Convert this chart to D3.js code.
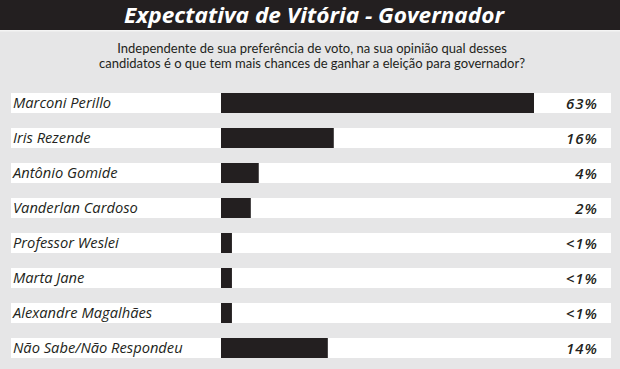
<!DOCTYPE html>
<html lang="pt">
    <head>
        <meta charset="utf-8">
        <title>Expectativa de Vitória - Governador</title>
        <script src="https://d3js.org/d3.v7.min.js"></script>
        <style>
            body { margin: 0; background: #e6e6e7; }
        </style>
    </head>
    <body>
        <script type="text/javascript">

            var w = 620;
            var h = 369;

            // candidates, top to bottom
            var candidatos = ["Marconi Perillo", "Iris Rezende", "Antônio Gomide", "Vanderlan Cardoso",
                              "Professor Weslei", "Marta Jane", "Alexandre Magalhães", "Não Sabe/Não Respondeu"];
            // printed percentages
            var rotulos = ["63%", "16%", "4%", "2%", "<1%", "<1%", "<1%", "14%"];
            // bar lengths as drawn in the picture (in % of the 63% bar's scale)
            var barras = [63, 22.7, 7.6, 6.0, 2.2, 2.2, 2.2, 21.5];

            var titulo = "Expectativa de Vitória - Governador";
            var pergunta = ["Independente de sua preferência de voto, na sua opinião qual desses",
                            "candidatos é o que tem mais chances de ganhar a eleição para governador?"];

            var dados = candidatos.map(function(c, i) {
                return { nome: c, valor: barras[i], rotulo: rotulos[i] };
            });

            var svg = d3.select("body")
                        .append("svg")
                        .attr("width", w)
                        .attr("height", h);

            svg.append("rect")
               .attr("width", w).attr("height", h)
               .attr("fill", "#e6e6e7");

            // title bar
            svg.append("rect")
               .attr("width", w).attr("height", 30)
               .attr("fill", "#231f20");
            svg.append("rect")
               .attr("y", 30).attr("width", w).attr("height", 1.5)
               .attr("fill", "#f4f4f4");

            svg.append("text")
               .attr("x", 314).attr("y", 23)
               .attr("text-anchor", "middle")
               .attr("textLength", 380)
               .attr("lengthAdjust", "spacingAndGlyphs")
               .style("font-family", "'Open Sans', sans-serif")
               .style("font-weight", "bold")
               .style("font-style", "italic")
               .style("font-size", "22px")
               .attr("fill", "#ffffff")
               .text(titulo);

            svg.selectAll("text.pergunta")
               .data(pergunta)
               .enter()
               .append("text")
               .attr("class", "pergunta")
               .attr("x", 312)
               .attr("y", function(d, i) { return 53 + i * 15; })
               .attr("text-anchor", "middle")
               .style("font-family", "Lato, sans-serif")
               .style("font-size", "13px")
               .attr("fill", "#231f20")
               .text(function(d) { return d; });

            var y = d3.scaleBand()
                      .domain(candidatos)
                      .range([93, 358])
                      .paddingInner(15 / 35)
                      .paddingOuter(0);

            var x = d3.scaleLinear()
                      .domain([0, 63])
                      .range([221, 534]);

            var linhas = svg.selectAll("g.linha")
                            .data(dados)
                            .enter()
                            .append("g")
                            .attr("class", "linha")
                            .attr("transform", function(d) {
                                return "translate(0," + y(d.nome) + ")";
                            });

            linhas.append("rect")
                  .attr("x", 11)
                  .attr("width", 600)
                  .attr("height", y.bandwidth())
                  .attr("fill", "#ffffff");

            linhas.append("rect")
                  .attr("x", x(0))
                  .attr("width", function(d) { return x(d.valor) - x(0); })
                  .attr("height", y.bandwidth())
                  .attr("fill", "#231f20");

            linhas.append("text")
                  .attr("x", 13)
                  .attr("y", y.bandwidth() / 2 + 5)
                  .style("font-family", "'Open Sans', sans-serif")
                  .style("font-style", "italic")
                  .style("font-size", "14.7px")
                  .attr("fill", "#231f20")
                  .text(function(d) { return d.nome; });

            linhas.append("text")
                  .attr("x", 598)
                  .attr("y", y.bandwidth() / 2 + 5.5)
                  .attr("text-anchor", "end")
                  .style("font-family", "'Open Sans', sans-serif")
                  .style("font-style", "italic")
                  .style("font-weight", "600")
                  .style("font-size", "15px")
                  .style("letter-spacing", "1px")
                  .attr("fill", "#231f20")
                  .text(function(d) { return d.rotulo; });

        </script>
    </body>
</html>
